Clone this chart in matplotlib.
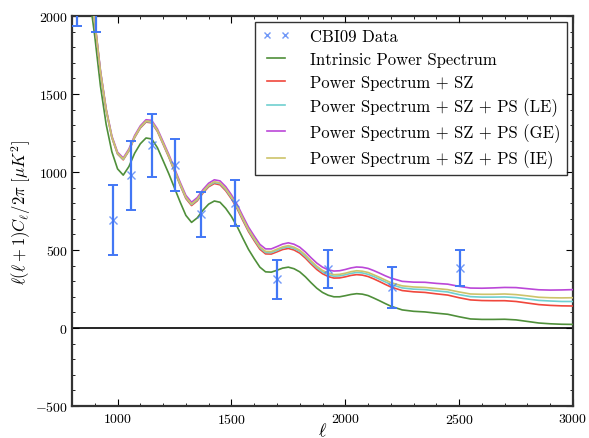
import matplotlib
matplotlib.use("Agg")
import matplotlib.pyplot as plt
from matplotlib.ticker import MultipleLocator

plt.rcParams['font.family'] = 'cmr10'
plt.rcParams['mathtext.fontset'] = 'cm'
plt.rcParams['axes.formatter.use_mathtext'] = True

# ---- data -----------------------------------------------------------
ell = [850, 875, 900, 925, 950, 975, 1000, 1025, 1050, 1075, 1100, 1125, 1150,
       1175, 1200, 1225, 1250, 1275, 1300, 1325, 1350, 1375, 1400, 1425, 1450,
       1475, 1500, 1525, 1550, 1575, 1600, 1625, 1650,
       1675, 1700, 1725, 1750, 1775, 1800, 1825, 1850, 1875, 1900, 1925, 1950,
       1975, 2000, 2025, 2050, 2075, 2100, 2125, 2150, 2175, 2200,
       2250, 2300, 2350, 2400, 2450, 2500, 2550, 2600, 2650, 2700, 2750, 2800,
       2850, 2900, 2950, 3000]

intrinsic = [2360, 2145, 1870, 1550, 1305, 1130, 1020, 980, 1035, 1120, 1181, 1218,
             1212, 1156, 1073, 989, 898, 807, 722, 677, 706, 755, 794, 814, 806,
             767, 715, 651, 576, 504, 445, 390, 360,
             358, 370, 384, 390, 380, 360, 328, 290, 255, 228, 210, 200,
             200, 207, 215, 220, 217, 208, 192, 175, 157, 140,
             116, 107, 103, 95, 88, 72, 58, 55, 55, 56, 52, 42, 32, 27, 24, 23]

ps_sz = [2450, 2235, 1960, 1640, 1395, 1220, 1115, 1078, 1135, 1220, 1282, 1320,
         1315, 1260, 1178, 1095, 1005, 915, 830, 785, 815, 865, 905, 926, 918,
         880, 828, 765, 690, 618, 560, 505, 475,
         474, 488, 503, 510, 500, 480, 448, 410, 375, 348, 330, 320,
         321, 328, 337, 342, 339, 330, 315, 298, 280, 263,
         240, 232, 228, 219, 211, 194, 180, 176, 175, 175, 170, 160, 150, 145,
         142, 141]

ps_sz_le = [2452, 2238, 1963, 1643, 1398, 1223, 1118, 1081, 1139, 1224, 1286, 1324,
            1319, 1265, 1183, 1100, 1010, 920, 836, 791, 821, 871, 911, 933, 925,
            887, 835, 773, 698, 626, 568, 514, 484,
            483, 497, 513, 520, 510, 491, 459, 421, 387, 360, 342, 332,
            334, 341, 350, 356, 353, 344, 330, 313, 296, 279,
            257, 249, 246, 238, 231, 214, 201, 198, 198, 199, 195, 186, 177, 173,
            170, 170]

ps_sz_ge = [2458, 2244, 1970, 1650, 1406, 1231, 1127, 1090, 1148, 1234, 1296, 1335,
            1331, 1276, 1195, 1113, 1023, 934, 850, 806, 836, 887, 928, 950, 943,
            906, 854, 792, 718, 647, 590, 536, 507,
            507, 522, 538, 546, 537, 518, 487, 450, 416, 390, 373, 365,
            367, 375, 385, 391, 389, 382, 368, 352, 335, 320,
            299, 294, 293, 286, 281, 267, 256, 255, 257, 260, 259, 252, 245, 243,
            244, 246]

ps_sz_ie = [2454, 2240, 1965, 1645, 1400, 1226, 1121, 1084, 1141, 1227, 1289, 1327,
            1323, 1268, 1186, 1104, 1014, 925, 840, 795, 826, 876, 916, 938, 930,
            893, 841, 779, 704, 632, 575, 520, 491,
            490, 505, 520, 528, 518, 499, 468, 430, 396, 369, 352, 342,
            344, 351, 361, 367, 364, 356, 341, 325, 308, 291,
            270, 263, 260, 253, 246, 231, 218, 216, 216, 218, 214, 206, 197, 194,
            193, 194]

data_ell = [822, 905, 980, 1061, 1153, 1253, 1366, 1514, 1702, 1924, 2207, 2503]
data_val = [2300, 2200, 692, 978, 1170, 1045, 728, 802, 311, 378, 260, 385]
data_err = [365, 303, 224, 221, 202, 167, 145, 148, 125, 122, 131, 116]

labels = ['CBI09 Data', 'Intrinsic Power Spectrum', 'Power Spectrum + SZ',
          'Power Spectrum + SZ + PS (LE)', 'Power Spectrum + SZ + PS (GE)',
          'Power Spectrum + SZ + PS (IE)']

# ---- figure ---------------------------------------------------------
fig = plt.figure(figsize=(5.89, 4.39), dpi=100)
ax_w = 501
ax = fig.add_axes([72 / 589, 1 - 407 / 439, ax_w / 589, 390 / 439])

ax.axhline(0, color='black', lw=1.2, zorder=1)

lw = 1.2
ax.plot(ell, intrinsic, color='#4f8f3a', lw=lw, label=labels[1], zorder=3)
ax.plot(ell, ps_sz, color='#f0473c', lw=lw, label=labels[2], zorder=3)
ax.plot(ell, ps_sz_le, color='#6fcfd0', lw=lw, label=labels[3], zorder=3)
ax.plot(ell, ps_sz_ge, color='#bb47d8', lw=lw, label=labels[4], zorder=3)
ax.plot(ell, ps_sz_ie, color='#cdc36a', lw=lw, label=labels[5], zorder=3)

blue = '#4277f5'
ax.errorbar(data_ell, data_val, yerr=data_err, fmt='none', ecolor=blue,
            elinewidth=1.6, capsize=3.5, capthick=1.4, zorder=4)
ax.plot(data_ell, data_val, 'x', color=blue, ms=6, mew=1.0, alpha=0.75,
        label=labels[0], zorder=5, linestyle='none')

ax.set_xlim(800, 3000)
ax.set_ylim(-500, 2000)
ax.xaxis.set_major_locator(MultipleLocator(500))
ax.xaxis.set_minor_locator(MultipleLocator(100))
ax.yaxis.set_major_locator(MultipleLocator(500))
ax.yaxis.set_minor_locator(MultipleLocator(100))
ax.tick_params(which='both', direction='in', top=True, right=True, labelsize=10)
ax.tick_params(axis='x', which='major', pad=4.5)
ax.tick_params(axis='y', which='major', pad=3)
ax.tick_params(which='major', length=5, width=0.8)
ax.tick_params(which='minor', length=2.5, width=0.6)
for s in ax.spines.values():
    s.set_linewidth(1.6)
    s.set_color('#333333')

ax.set_xlabel(r'$\ell$', fontsize=13, labelpad=-4)
ax.set_ylabel(r'$\ell(\ell+1)C_\ell/2\pi\ [\mu K^2]$', fontsize=12, labelpad=1)

h, l = ax.get_legend_handles_labels()
order = [labels.index(x) for x in l]
pairs = sorted(zip(order, h, l))
leg = ax.legend([p[1] for p in pairs], [p[2] for p in pairs],
                loc='upper right', bbox_to_anchor=(1 - 6 / ax_w, 1 - 6 / 390),
                borderaxespad=0, numpoints=2, fontsize=12, fancybox=False,
                frameon=True, edgecolor='black', handlelength=1.7,
                handletextpad=1.2, labelspacing=0.45, borderpad=0.4,
                markerscale=0.8)
leg.get_frame().set_linewidth(1.0)

fig.savefig('out.png', dpi=100)
